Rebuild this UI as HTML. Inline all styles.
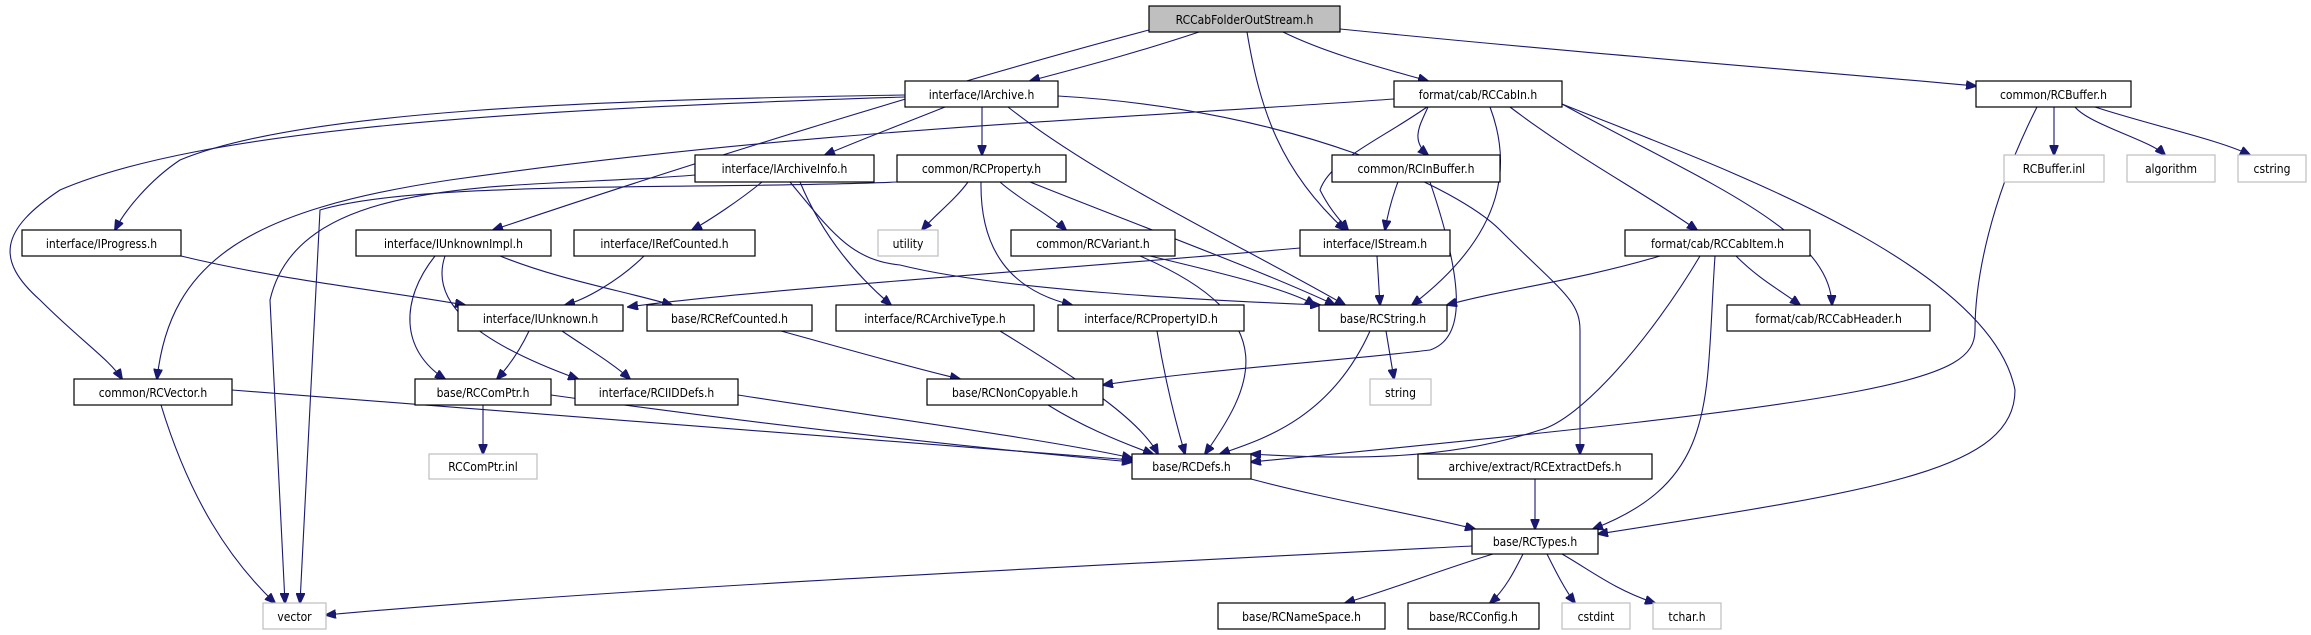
<!DOCTYPE html>
<html><head><meta charset="utf-8"><style>
html,body{margin:0;padding:0;background:#fff;}
svg{display:block;}
text{font-family:"DejaVu Sans Condensed","Liberation Sans",sans-serif;font-size:12px;fill:#000;}
.n{fill:#fff;stroke:#000;stroke-width:1.2;}
.g{fill:#fff;stroke:#bfbfbf;stroke-width:1.2;}
path.e{fill:none;stroke:#191970;stroke-width:1.1;}
</style></head><body>
<svg width="2311" height="635" viewBox="0 0 2311 635" xmlns="http://www.w3.org/2000/svg">
<defs><marker id="a" markerWidth="11" markerHeight="9" refX="10" refY="4.5" orient="auto" markerUnits="userSpaceOnUse"><path d="M0,0 L11,4.5 L0,9 z" fill="#191970" stroke="#191970"/></marker></defs>
<g marker-end="url(#a)">
<path class="e" d="M1199,32 C1130,55 1070,70 1030,81"/>
<path class="e" d="M1149,30 C960,80 700,160 493,230"/>
<path class="e" d="M1247,32 C1260,110 1280,170 1345,230"/>
<path class="e" d="M1283,32 C1330,55 1390,70 1428,81"/>
<path class="e" d="M1340,29 C1600,55 1800,70 1976,86"/>
<path class="e" d="M945,107 C900,125 860,140 825,155"/>
<path class="e" d="M982,107 L982,155"/>
<path class="e" d="M905,95 C600,100 300,110 180,160 C150,180 125,210 115,230"/>
<path class="e" d="M905,97 C500,110 200,130 60,190 C0,230 -5,260 40,300 C80,340 110,360 122,379"/>
<path class="e" d="M1008,107 C1100,180 1250,250 1345,305"/>
<path class="e" d="M1058,96 C1300,110 1460,190 1500,230 C1560,290 1580,300 1580,330 L1580,454"/>
<path class="e" d="M1394,99 C1100,120 800,130 450,180 C250,210 170,260 157,379"/>
<path class="e" d="M1428,107 C1420,125 1410,140 1428,155"/>
<path class="e" d="M1427,107 C1380,140 1330,160 1320,190 C1330,210 1340,220 1348,230"/>
<path class="e" d="M1490,107 C1510,160 1510,230 1412,305"/>
<path class="e" d="M1510,107 C1580,160 1640,190 1697,230"/>
<path class="e" d="M1562,104 C1700,180 1830,230 1832,305"/>
<path class="e" d="M1562,104 C1700,160 1990,260 2015,390 C2015,470 1880,490 1598,534"/>
<path class="e" d="M2054,107 L2054,155"/>
<path class="e" d="M2075,107 C2090,125 2150,140 2165,155"/>
<path class="e" d="M2095,107 C2150,125 2220,140 2250,155"/>
<path class="e" d="M2037,107 C1990,200 1975,280 1975,330 C1975,380 1900,400 1251,462"/>
<path class="e" d="M762,182 C740,200 710,220 692,230"/>
<path class="e" d="M800,182 C820,230 850,270 891,305"/>
<path class="e" d="M790,182 C830,230 850,260 900,265 C1000,290 1200,300 1320,305"/>
<path class="e" d="M695,175 C520,190 300,170 270,300 L285,603"/>
<path class="e" d="M968,182 C955,200 935,215 922,230"/>
<path class="e" d="M1000,182 C1020,200 1050,215 1066,230"/>
<path class="e" d="M981,182 C980,250 1010,290 1072,305"/>
<path class="e" d="M1030,182 C1150,230 1260,270 1335,305"/>
<path class="e" d="M897,182 C700,190 420,180 320,210 L300,603"/>
<path class="e" d="M181,256 C280,280 380,290 465,305"/>
<path class="e" d="M500,256 C560,280 620,290 672,305"/>
<path class="e" d="M435,256 C400,300 400,350 445,379"/>
<path class="e" d="M445,256 C430,300 470,340 578,379"/>
<path class="e" d="M644,256 C620,280 585,300 565,305"/>
<path class="e" d="M1300,248 C1050,270 750,290 628,307"/>
<path class="e" d="M1377,256 L1380,305"/>
<path class="e" d="M1409,155 C1400,175 1390,200 1385,230"/>
<path class="e" d="M1430,182 C1470,300 1460,340 1430,350 C1350,360 1200,370 1103,385"/>
<path class="e" d="M1660,256 C1580,280 1500,290 1447,305"/>
<path class="e" d="M1736,256 C1760,280 1780,290 1800,305"/>
<path class="e" d="M1700,256 C1650,340 1580,420 1540,430 C1450,460 1350,460 1251,454"/>
<path class="e" d="M1715,256 C1705,400 1720,480 1593,529"/>
<path class="e" d="M1150,256 C1230,275 1290,290 1315,305"/>
<path class="e" d="M1140,256 C1290,320 1250,390 1205,454"/>
<path class="e" d="M529,331 C520,350 510,365 497,379"/>
<path class="e" d="M562,331 C590,350 615,365 630,379"/>
<path class="e" d="M781,331 C850,350 920,370 960,379"/>
<path class="e" d="M1000,331 C1080,380 1140,420 1158,454"/>
<path class="e" d="M1157,331 C1165,380 1175,420 1185,454"/>
<path class="e" d="M1370,331 C1330,420 1260,440 1220,454"/>
<path class="e" d="M1386,331 L1394,379"/>
<path class="e" d="M232,390 C600,420 900,440 1132,460"/>
<path class="e" d="M161,405 C190,500 230,560 275,603"/>
<path class="e" d="M551,395 C800,430 1000,450 1132,462"/>
<path class="e" d="M483,405 L483,454"/>
<path class="e" d="M738,395 C900,420 1050,440 1132,458"/>
<path class="e" d="M1048,405 C1080,425 1115,440 1153,454"/>
<path class="e" d="M1251,479 C1330,500 1420,515 1475,529"/>
<path class="e" d="M1535,479 L1535,529"/>
<path class="e" d="M1472,546 C1000,570 600,590 326,615"/>
<path class="e" d="M1493,554 C1440,570 1390,590 1345,603"/>
<path class="e" d="M1523,554 C1515,570 1505,590 1490,603"/>
<path class="e" d="M1547,554 C1555,570 1565,590 1575,603"/>
<path class="e" d="M1562,554 C1590,570 1615,590 1655,603"/>
</g>
<g>
<rect x="1149" y="6" width="191" height="26" fill="#bfbfbf" stroke="#000" stroke-width="1.2"/><text x="1244.5" y="24" text-anchor="middle">RCCabFolderOutStream.h</text>
<rect class="n" x="905" y="81" width="153" height="26"/><text x="981.5" y="99" text-anchor="middle">interface/IArchive.h</text>
<rect class="n" x="1394" y="81" width="168" height="26"/><text x="1478" y="99" text-anchor="middle">format/cab/RCCabIn.h</text>
<rect class="n" x="1976" y="81" width="155" height="26"/><text x="2053.5" y="99" text-anchor="middle">common/RCBuffer.h</text>
<rect class="n" x="695" y="155" width="179" height="27"/><text x="784.5" y="173" text-anchor="middle">interface/IArchiveInfo.h</text>
<rect class="n" x="897" y="155" width="169" height="27"/><text x="981.5" y="173" text-anchor="middle">common/RCProperty.h</text>
<rect class="n" x="1332" y="155" width="168" height="27"/><text x="1416" y="173" text-anchor="middle">common/RCInBuffer.h</text>
<rect class="g" x="2004" y="155" width="100" height="27"/><text x="2054" y="173" text-anchor="middle">RCBuffer.inl</text>
<rect class="g" x="2127" y="155" width="88" height="27"/><text x="2171" y="173" text-anchor="middle">algorithm</text>
<rect class="g" x="2238" y="155" width="68" height="27"/><text x="2272" y="173" text-anchor="middle">cstring</text>
<rect class="n" x="22" y="230" width="159" height="26"/><text x="101.5" y="248" text-anchor="middle">interface/IProgress.h</text>
<rect class="n" x="356" y="230" width="195" height="26"/><text x="453.5" y="248" text-anchor="middle">interface/IUnknownImpl.h</text>
<rect class="n" x="574" y="230" width="181" height="26"/><text x="664.5" y="248" text-anchor="middle">interface/IRefCounted.h</text>
<rect class="g" x="878" y="230" width="60" height="26"/><text x="908" y="248" text-anchor="middle">utility</text>
<rect class="n" x="1011" y="230" width="164" height="26"/><text x="1093" y="248" text-anchor="middle">common/RCVariant.h</text>
<rect class="n" x="1300" y="230" width="150" height="26"/><text x="1375" y="248" text-anchor="middle">interface/IStream.h</text>
<rect class="n" x="1625" y="230" width="185" height="26"/><text x="1717.5" y="248" text-anchor="middle">format/cab/RCCabItem.h</text>
<rect class="n" x="458" y="305" width="165" height="26"/><text x="540.5" y="323" text-anchor="middle">interface/IUnknown.h</text>
<rect class="n" x="647" y="305" width="165" height="26"/><text x="729.5" y="323" text-anchor="middle">base/RCRefCounted.h</text>
<rect class="n" x="836" y="305" width="198" height="26"/><text x="935" y="323" text-anchor="middle">interface/RCArchiveType.h</text>
<rect class="n" x="1058" y="305" width="186" height="26"/><text x="1151" y="323" text-anchor="middle">interface/RCPropertyID.h</text>
<rect class="n" x="1319" y="305" width="128" height="26"/><text x="1383" y="323" text-anchor="middle">base/RCString.h</text>
<rect class="n" x="1727" y="305" width="203" height="26"/><text x="1828.5" y="323" text-anchor="middle">format/cab/RCCabHeader.h</text>
<rect class="n" x="74" y="379" width="158" height="26"/><text x="153" y="397" text-anchor="middle">common/RCVector.h</text>
<rect class="n" x="415" y="379" width="136" height="26"/><text x="483" y="397" text-anchor="middle">base/RCComPtr.h</text>
<rect class="n" x="575" y="379" width="163" height="26"/><text x="656.5" y="397" text-anchor="middle">interface/RCIIDDefs.h</text>
<rect class="n" x="927" y="379" width="176" height="26"/><text x="1015" y="397" text-anchor="middle">base/RCNonCopyable.h</text>
<rect class="g" x="1370" y="379" width="61" height="26"/><text x="1400.5" y="397" text-anchor="middle">string</text>
<rect class="g" x="429" y="454" width="108" height="25"/><text x="483" y="471" text-anchor="middle">RCComPtr.inl</text>
<rect class="n" x="1132" y="454" width="119" height="25"/><text x="1191.5" y="471" text-anchor="middle">base/RCDefs.h</text>
<rect class="n" x="1418" y="454" width="234" height="25"/><text x="1535" y="471" text-anchor="middle">archive/extract/RCExtractDefs.h</text>
<rect class="n" x="1472" y="529" width="126" height="25"/><text x="1535" y="546" text-anchor="middle">base/RCTypes.h</text>
<rect class="g" x="263" y="603" width="63" height="26"/><text x="294.5" y="621" text-anchor="middle">vector</text>
<rect class="n" x="1218" y="603" width="167" height="26"/><text x="1301.5" y="621" text-anchor="middle">base/RCNameSpace.h</text>
<rect class="n" x="1408" y="603" width="131" height="26"/><text x="1473.5" y="621" text-anchor="middle">base/RCConfig.h</text>
<rect class="g" x="1562" y="603" width="68" height="26"/><text x="1596" y="621" text-anchor="middle">cstdint</text>
<rect class="g" x="1653" y="603" width="68" height="26"/><text x="1687" y="621" text-anchor="middle">tchar.h</text>
</g>
</svg>
</body></html>
